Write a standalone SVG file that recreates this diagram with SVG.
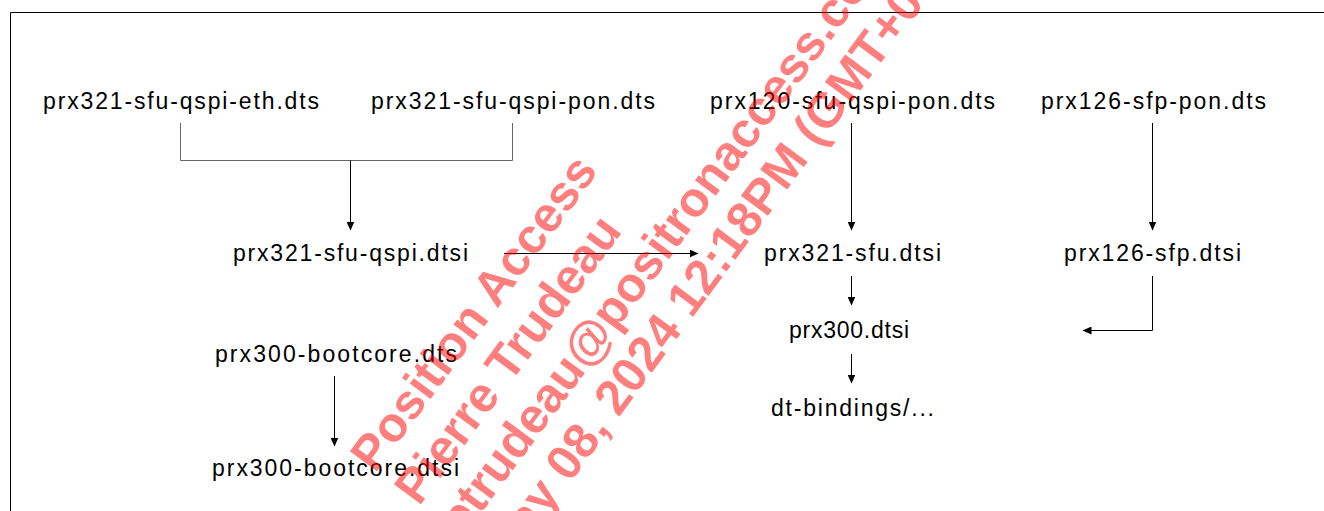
<svg xmlns="http://www.w3.org/2000/svg" width="1324" height="511" viewBox="0 0 1324 511">
<defs>
<style>
.lbl{font-family:"Liberation Sans",Arial,sans-serif;font-size:23px;fill:#000}
.wm{font-family:"Liberation Sans",Arial,sans-serif;font-size:49px;font-weight:bold;fill:#ff0000;fill-opacity:0.5}
.ln{stroke:#000;stroke-width:1;fill:none}
.br{stroke:#666;stroke-width:1;fill:none}
</style>
<marker id="ah" markerWidth="9" markerHeight="8" refX="8.5" refY="4" orient="auto" markerUnits="userSpaceOnUse">
<path d="M0,0 L9,4 L0,8 Z" fill="#000"/>
</marker>
</defs>
<rect width="1324" height="511" fill="#fff"/>
<path d="M10.5,511 V12.5 H1324" class="ln"/>

<g id="n-eth"><text class="lbl" x="43" y="109" textLength="276" lengthAdjust="spacing">prx321-sfu-qspi-eth.dts</text></g>
<g id="n-pon321"><text class="lbl" x="371" y="109" textLength="284" lengthAdjust="spacing">prx321-sfu-qspi-pon.dts</text></g>
<g id="n-pon120"><text class="lbl" x="710" y="109" textLength="285" lengthAdjust="spacing">prx120-sfu-qspi-pon.dts</text></g>
<g id="n-pon126"><text class="lbl" x="1041" y="109" textLength="225" lengthAdjust="spacing">prx126-sfp-pon.dts</text></g>
<g id="n-qspi"><text class="lbl" x="233" y="261" textLength="235" lengthAdjust="spacing">prx321-sfu-qspi.dtsi</text></g>
<g id="n-sfu"><text class="lbl" x="764" y="261" textLength="177" lengthAdjust="spacing">prx321-sfu.dtsi</text></g>
<g id="n-sfp"><text class="lbl" x="1064" y="261" textLength="177" lengthAdjust="spacing">prx126-sfp.dtsi</text></g>
<g id="n-prx300"><text class="lbl" x="789" y="338" textLength="120" lengthAdjust="spacing">prx300.dtsi</text></g>
<g id="n-bind"><text class="lbl" x="771" y="416" textLength="163" lengthAdjust="spacing">dt-bindings/...</text></g>
<g id="n-bootdts"><text class="lbl" x="215" y="362" textLength="242" lengthAdjust="spacing">prx300-bootcore.dts</text></g>
<g id="n-bootdtsi"><text class="lbl" x="212" y="476" textLength="247" lengthAdjust="spacing">prx300-bootcore.dtsi</text></g>

<g id="connectors">
<path class="br" d="M180.5,123 V160.5 H512.5 V123"/>
<path class="ln" d="M350.5,160.5 V230" marker-end="url(#ah)"/>
<path class="ln" d="M504,253.5 H698" marker-end="url(#ah)"/>
<path class="ln" d="M851.5,123 V230" marker-end="url(#ah)"/>
<path class="ln" d="M1152.5,123 V230" marker-end="url(#ah)"/>
<path class="ln" d="M851.5,276 V305" marker-end="url(#ah)"/>
<path class="ln" d="M851.5,354 V383" marker-end="url(#ah)"/>
<path class="ln" d="M1152.5,276 V330.5 H1083" marker-end="url(#ah)"/>
<path class="ln" d="M334.5,376 V446" marker-end="url(#ah)"/>
</g>

<g id="watermark">
<text class="wm" transform="translate(375,474) rotate(-53.5)">Position Access</text>
<text class="wm" transform="translate(419,507) rotate(-53.5)">Pierre Trudeau</text>
<text class="wm" transform="translate(462,539) rotate(-53.5)">ptrudeau@positronaccess.com</text>
<text class="wm" transform="translate(505,571) rotate(-53.5)">May 08, 2024 12:18PM (GMT+0</text>
</g>
</svg>
